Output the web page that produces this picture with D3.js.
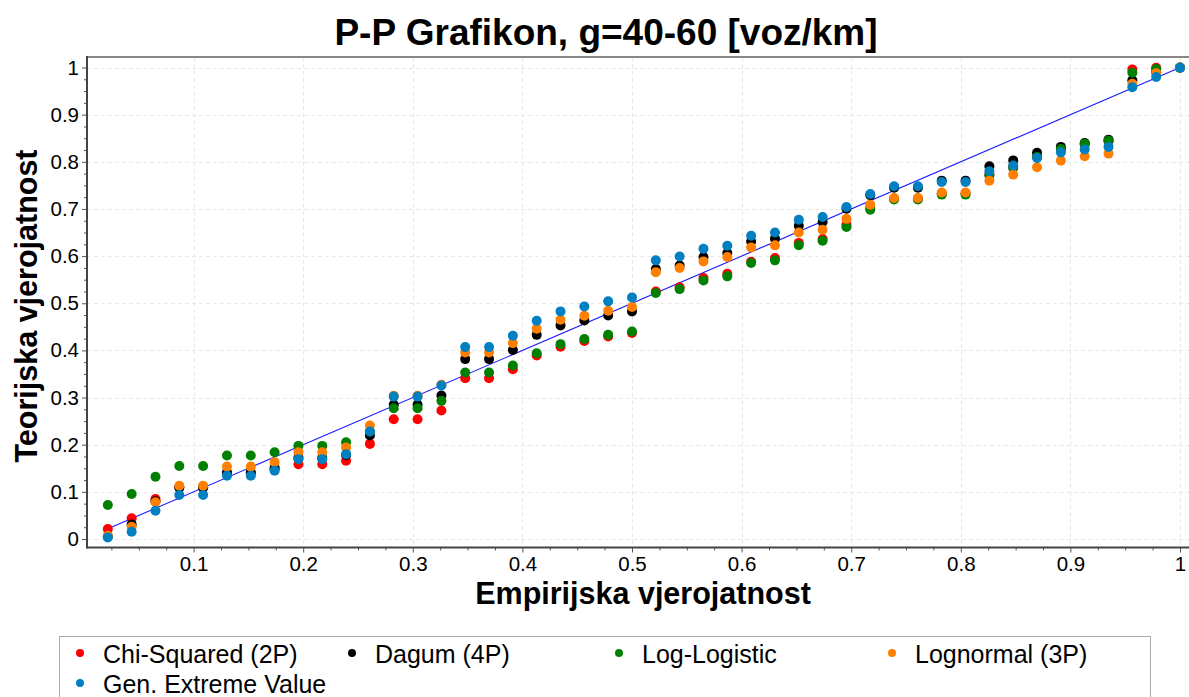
<!DOCTYPE html>
<html>
<head>
<meta charset="utf-8">
<script src="https://cdn.jsdelivr.net/npm/d3@7"></script>
<style>
  html, body { margin: 0; padding: 0; background: #fff; }
  svg { display: block; font-family: "Liberation Sans", Arial, sans-serif; }
</style>
</head>
<body>
<svg id="chart" width="1189" height="697"></svg>
<script>
// Empirical probability i/46 for each sorted observation
const empirical = d3.range(1, 47).map(i => i / 46);

const seriesNames = ["Chi-Squared (2P)", "Dagum (4P)", "Log-Logistic", "Lognormal (3P)", "Gen. Extreme Value"];
const seriesColors = ["#ff0000", "#000000", "#008000", "#ff8000", "#0080c0"];

// Theoretical CDF values at each observation, per fitted distribution
const chiSquared = [0.021, 0.044, 0.085, 0.110, 0.110, 0.139, 0.139, 0.148, 0.1585, 0.1585,
  0.166, 0.2017, 0.254, 0.254, 0.2725, 0.341, 0.341, 0.360, 0.389, 0.408,
  0.420, 0.4296, 0.437, 0.525, 0.534, 0.5535, 0.5626, 0.588, 0.596, 0.628,
  0.6363, 0.6667, 0.702, 0.722, 0.722, 0.733, 0.733, 0.773, 0.789, 0.810,
  0.826, 0.836, 0.843, 0.996, 0.9995, 1.0];
const dagum = [0.006, 0.031, 0.080, 0.109, 0.109, 0.1415, 0.1415, 0.151, 0.172, 0.172,
  0.178, 0.2194, 0.2845, 0.2845, 0.3043, 0.3815, 0.3815, 0.401, 0.433, 0.453,
  0.4635, 0.474, 0.4827, 0.5725, 0.580, 0.598, 0.6065, 0.631, 0.637, 0.6645,
  0.6724, 0.7006, 0.729, 0.745, 0.745, 0.760, 0.760, 0.7905, 0.803, 0.819,
  0.8316, 0.840, 0.847, 0.973, 0.990, 0.9995];
const logLogistic = [0.072, 0.0955, 0.132, 0.155, 0.155, 0.177, 0.177, 0.184, 0.1975, 0.1975,
  0.205, 0.228, 0.2774, 0.2774, 0.293, 0.353, 0.353, 0.368, 0.394, 0.4133,
  0.424, 0.433, 0.440, 0.5216, 0.530, 0.5485, 0.557, 0.5853, 0.591, 0.623,
  0.6327, 0.6617, 0.6985, 0.720, 0.720, 0.7304, 0.7304, 0.7714, 0.787, 0.810,
  0.8273, 0.838, 0.845, 0.9887, 0.997, 0.9998];
const lognormal = [0.007, 0.026, 0.078, 0.113, 0.113, 0.1535, 0.1535, 0.163, 0.184, 0.184,
  0.194, 0.2406, 0.304, 0.304, 0.327, 0.3956, 0.3956, 0.4155, 0.446, 0.465,
  0.4735, 0.484, 0.492, 0.566, 0.5747, 0.5888, 0.598, 0.6185, 0.6228, 0.650,
  0.656, 0.679, 0.709, 0.7233, 0.7233, 0.735, 0.735, 0.760, 0.7728, 0.7884,
  0.8025, 0.8117, 0.8174, 0.9653, 0.988, 0.9995];
const genExtreme = [0.003, 0.0155, 0.060, 0.0934, 0.0934, 0.134, 0.134, 0.145, 0.169, 0.169,
  0.180, 0.2279, 0.302, 0.302, 0.3256, 0.407, 0.407, 0.431, 0.463, 0.4827,
  0.493, 0.504, 0.5124, 0.591, 0.599, 0.6157, 0.622, 0.643, 0.650, 0.677,
  0.683, 0.704, 0.7318, 0.748, 0.748, 0.757, 0.757, 0.780, 0.792, 0.8082,
  0.820, 0.826, 0.8316, 0.958, 0.980, 0.9995];

const seriesValues = [chiSquared, dagum, logLogistic, lognormal, genExtreme];

const majorTicks = [0, 0.1, 0.2, 0.3, 0.4, 0.5, 0.6, 0.7, 0.8, 0.9, 1];
const xTickLabels = ["0.1", "0.2", "0.3", "0.4", "0.5", "0.6", "0.7", "0.8", "0.9", "1"];
const yTickLabels = ["0", "0.1", "0.2", "0.3", "0.4", "0.5", "0.6", "0.7", "0.8", "0.9", "1"];

const titleText = "P-P Grafikon, g=40-60 [voz/km]";
const xTitle = "Empirijska vjerojatnost";
const yTitle = "Teorijska vjerojatnost";

// ---- layout ----
const W = 1189, H = 697;
const plot = { left: 87, top: 57, right: 1189, bottom: 547.5 };

const x = d3.scaleLinear().domain([0, 1]).range([84, 1180]);
const y = d3.scaleLinear().domain([0, 1]).range([539, 67.5]);

const svg = d3.select("#chart");
svg.append("rect").attr("width", W).attr("height", H).attr("fill", "#fff");

// minor tick positions every 0.025 inside the visible range
const minorTicks = d3.range(1, 41).map(k => k * 0.025).filter(v => Math.abs(v * 10 - Math.round(v * 10)) > 1e-6);
const xMajor = majorTicks.filter(v => v > 0);

// ---- grid ----
const grid = svg.append("g").attr("stroke", "#e8e8e8").attr("stroke-width", 1).attr("stroke-dasharray", "4,3");
grid.selectAll("line.h").data(majorTicks).join("line")
  .attr("x1", plot.left).attr("x2", plot.right)
  .attr("y1", d => Math.round(y(d)) + 0.5).attr("y2", d => Math.round(y(d)) + 0.5);
grid.selectAll("line.v").data(xMajor).join("line")
  .attr("y1", plot.top).attr("y2", plot.bottom)
  .attr("x1", d => Math.round(x(d)) + 0.5).attr("x2", d => Math.round(x(d)) + 0.5);

// ---- axes ----
const yAxis = d3.axisLeft(y).tickValues(majorTicks).tickSize(5).tickPadding(3)
  .tickFormat((d, i) => yTickLabels[i]);
const yMinor = d3.axisLeft(y).tickValues(minorTicks.filter(v => v <= 1)).tickSize(3).tickFormat("");
const xAxis = d3.axisBottom(x).tickValues(xMajor).tickSize(5).tickPadding(4)
  .tickFormat((d, i) => xTickLabels[i]);
const xMinor = d3.axisBottom(x).tickValues(minorTicks).tickSize(3).tickFormat("");

function styleAxis(g) {
  g.select(".domain").remove();
  g.selectAll(".tick line").attr("stroke", "#555").attr("stroke-width", 1);
  g.selectAll(".tick text").attr("fill", "#000").attr("font-size", 20.5)
    .attr("font-family", "'Liberation Sans', Arial, sans-serif");
}
svg.append("g").attr("transform", `translate(${plot.left},0)`).call(yMinor).call(styleAxis);
svg.append("g").attr("transform", `translate(${plot.left},0)`).call(yAxis).call(styleAxis);
svg.append("g").attr("transform", `translate(0,${plot.bottom})`).call(xMinor).call(styleAxis);
svg.append("g").attr("transform", `translate(0,${plot.bottom})`).call(xAxis).call(styleAxis);

// frame lines
svg.append("line").attr("x1", plot.left).attr("x2", plot.right).attr("y1", plot.top).attr("y2", plot.top)
  .attr("stroke", "#888").attr("stroke-width", 2);
svg.append("line").attr("x1", plot.left).attr("x2", plot.left).attr("y1", plot.top - 1).attr("y2", plot.bottom + 1)
  .attr("stroke", "#444").attr("stroke-width", 2);
svg.append("line").attr("x1", plot.left).attr("x2", plot.right).attr("y1", plot.bottom).attr("y2", plot.bottom)
  .attr("stroke", "#444").attr("stroke-width", 2);

// ---- reference diagonal ----
const first = empirical[0], last = empirical[empirical.length - 1];
svg.append("line")
  .attr("x1", x(first)).attr("y1", y(first)).attr("x2", x(last)).attr("y2", y(last))
  .attr("stroke", "#1a1aff").attr("stroke-width", 1.1);

// ---- points ----
seriesValues.forEach((vals, s) => {
  svg.append("g").attr("fill", seriesColors[s])
    .selectAll("circle").data(vals).join("circle")
    .attr("cx", (d, i) => x(empirical[i]))
    .attr("cy", d => y(d))
    .attr("r", 5);
});

// ---- titles ----
svg.append("text").attr("x", 606).attr("y", 45).attr("text-anchor", "middle")
  .attr("font-size", 37).attr("font-weight", "bold").attr("fill", "#000").text(titleText);
svg.append("text").attr("x", 643).attr("y", 604).attr("text-anchor", "middle")
  .attr("font-size", 30.5).attr("font-weight", "bold").attr("fill", "#000").text(xTitle);
svg.append("text").attr("transform", "translate(37,306) rotate(-90)").attr("text-anchor", "middle")
  .attr("font-size", 30.5).attr("font-weight", "bold").attr("fill", "#000").text(yTitle);

// ---- legend ----
const legend = svg.append("g");
legend.append("rect").attr("x", 59.5).attr("y", 636.5).attr("width", 1091).attr("height", 80)
  .attr("fill", "#fff").attr("stroke", "#aaa").attr("stroke-width", 1);
const colX = [80, 352, 619, 892];
seriesNames.forEach((name, s) => {
  const cx = colX[s % 4], cy = 653 + Math.floor(s / 4) * 30;
  legend.append("circle").attr("cx", cx).attr("cy", cy).attr("r", 4).attr("fill", seriesColors[s]);
  legend.append("text").attr("x", cx + 23).attr("y", cy + 9.5).attr("font-size", 25)
    .attr("fill", "#000").text(name);
});
</script>
</body>
</html>
